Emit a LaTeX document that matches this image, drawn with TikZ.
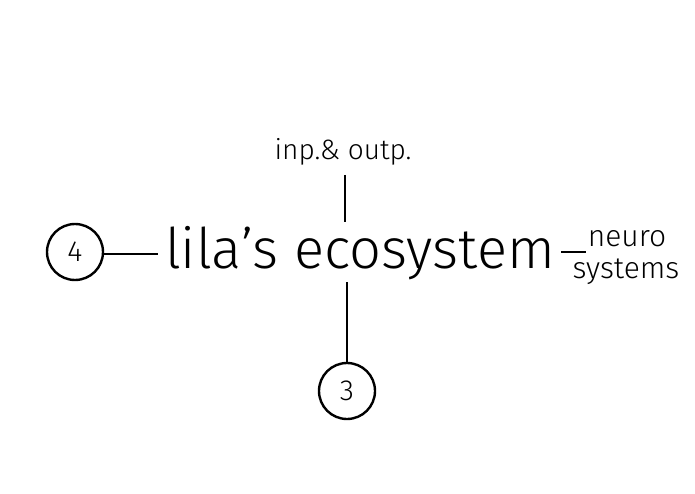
\documentclass[tikz,border=0pt]{standalone}
\usepackage{fontspec}
\setmainfont{Fira Sans Light}
\begin{document}
\begin{tikzpicture}[x=1pt,y=-1pt,
  conn/.style={line width=2.6pt},
  circ/.style={circle,draw,line width=2.4pt,minimum size=56pt,inner sep=0pt,font=\fontsize{29}{29}\selectfont},
  lbl/.style={inner sep=0pt,font=\fontsize{28}{30}\selectfont},
  nlbl/.style={inner sep=0pt,font=\fontsize{30}{32}\selectfont}]
\useasboundingbox (0,0) rectangle (695,494);
\node[inner sep=0pt,anchor=base,font=\fontsize{56}{60}\selectfont] (main) at (360,268) {lila’s ecosystem};
\node[lbl,anchor=base] (io) at (343,160) {inp.\& outp.};
\node[nlbl,anchor=base] (neuro) at (627,246) {neuro};
\node[nlbl,anchor=base] (sys) at (626,278) {systems};
\node[circ] (c4) at (75,252) {4};
\node[circ] (c3) at (347,391) {3};
\coordinate (t1) at (345,175);
\coordinate (t2) at (345,222);
\draw[conn] (t1) -- (t2);
\coordinate (b1) at (347,282);
\draw[conn] (b1) -- (c3.north);
\coordinate (l2) at (158,254);
\draw[conn] (c4.east |- l2) -- (l2);
\coordinate (r1) at (561,252);
\coordinate (r2) at (586,252);
\draw[conn] (r1) -- (r2);
\end{tikzpicture}
\end{document}
